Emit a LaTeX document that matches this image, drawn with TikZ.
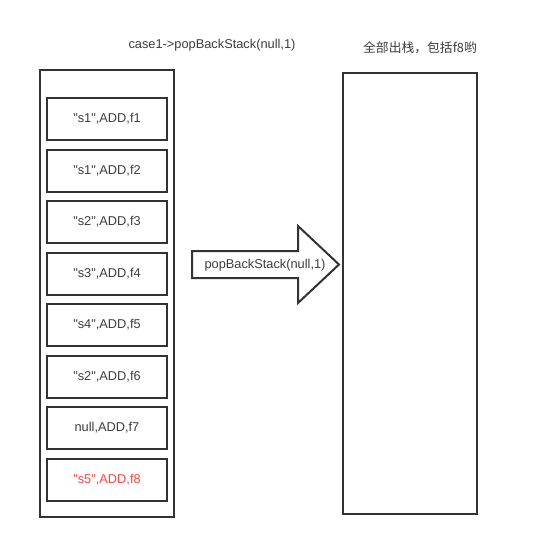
\documentclass[tikz,border=0pt]{standalone}
\usepackage{fontspec}
\usepackage{tikz}
\usepackage{xcolor}
\setmainfont{Liberation Sans}
\newfontfamily\cjk{Noto Sans CJK SC}
\usetikzlibrary{calc}
\definecolor{linedark}{RGB}{51,51,51}
\definecolor{textgray}{RGB}{60,60,60}
\definecolor{popred}{RGB}{240,70,70}

\begin{document}
\begin{tikzpicture}[x=1pt, y=-1pt, font=\fontsize{12.8}{14}\selectfont,
    stackbox/.style={draw=linedark, line width=2pt},
    entry/.style={draw=linedark, line width=2pt, minimum width=120pt, minimum height=42pt, inner sep=0pt, text=textgray}]
    \useasboundingbox (0,0) rectangle (535,543);

    % Titles
    \node[text=textgray] (title) at (212,45) {case1->popBackStack(null,1)};
    \node[text=textgray] (note) at (420,48) {\cjk 全部出栈，包括f8哟};

    % Left stack with its entries
    \draw[stackbox] (40,70) rectangle (174,517);
    \foreach \i/\txt in {1/{\textquotedbl s1\textquotedbl,ADD,f1}, 2/{\textquotedbl s1\textquotedbl,ADD,f2},
                         3/{\textquotedbl s2\textquotedbl,ADD,f3}, 4/{\textquotedbl s3\textquotedbl,ADD,f4},
                         5/{\textquotedbl s4\textquotedbl,ADD,f5}, 6/{\textquotedbl s2\textquotedbl,ADD,f6},
                         7/{null,ADD,f7}} {
        \node[entry] (e\i) at (107,{119+51.5*(\i-1)}) {\raisebox{-2pt}{\txt}};
    }
    \node[entry, text=popred] (e8) at (107,479.5) {\raisebox{-2pt}{\textquotedbl s5\textquotedbl,ADD,f8}};

    % Big arrow
    \draw[linedark, line width=2pt, line join=miter]
        (192,251) -- (298,251) -- (298,226) -- (339,264.5) -- (298,303) -- (298,278) -- (192,278) -- cycle;
    \node[text=textgray] (pop) at (265,265.5) {popBackStack(null,1)};

    % Right stack, empty
    \draw[stackbox] (343,73) rectangle (477,514);
\end{tikzpicture}
\end{document}
